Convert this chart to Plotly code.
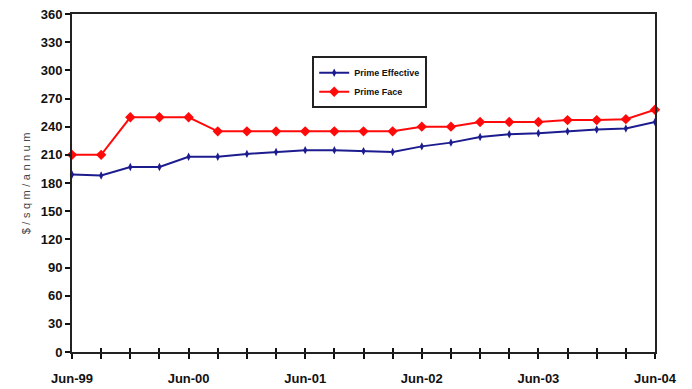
import plotly.graph_objects as go

quarters = ["Jun-99", "Sep-99", "Dec-99", "Mar-00", "Jun-00", "Sep-00", "Dec-00",
            "Mar-01", "Jun-01", "Sep-01", "Dec-01", "Mar-02", "Jun-02", "Sep-02",
            "Dec-02", "Mar-03", "Jun-03", "Sep-03", "Dec-03", "Mar-04", "Jun-04"]
prime_effective = [189, 188, 197, 197, 208, 208, 211, 213, 215, 215, 214, 213, 219,
                   223, 229, 232, 233, 235, 237, 238, 245]
prime_face = [210, 210, 250, 250, 250, 235, 235, 235, 235, 235, 235, 235, 240,
              240, 245, 245, 245, 247, 247, 248, 258]
label_every = 4
y_ticks = list(range(0, 361, 30))

x = list(range(len(quarters)))
font_family = "Liberation Sans Narrow, Arial Narrow, Liberation Sans, sans-serif"

fig = go.Figure()
fig.add_trace(go.Scatter(
    x=x, y=prime_effective, name="<b>Prime Effective</b>", mode="lines+markers",
    line=dict(color="#1c1c8f", width=2),
    marker=dict(symbol="diamond-tall", size=6, color="#1c1c8f"),
    cliponaxis=False))
fig.add_trace(go.Scatter(
    x=x, y=prime_face, name="<b>Prime Face</b>", mode="lines+markers",
    line=dict(color="#ff0a0a", width=2),
    marker=dict(symbol="diamond", size=8, color="#ff0a0a"),
    cliponaxis=False))

fig.update_layout(
    width=692, height=389,
    margin=dict(l=72, r=37, t=14, b=37),
    paper_bgcolor="white", plot_bgcolor="white",
    showlegend=True,
    legend=dict(x=0.412, y=0.875, xanchor="left", yanchor="top",
                bordercolor="#222", borderwidth=2, bgcolor="white",
                font=dict(family=font_family, size=9, color="#111"),
                itemwidth=30, tracegroupgap=2),
    font=dict(family=font_family, color="#111"),
    xaxis=dict(range=[0, len(quarters) - 1], automargin=False,
               tickvals=x[::label_every], ticktext=["<b>%s</b>" % q for q in quarters[::label_every]],
               ticks="outside", ticklen=5, tickwidth=1.5, tickcolor="#111",
               ticklabelstandoff=8,
               minor=dict(dtick=1, tick0=0, ticks="outside", ticklen=5, tickwidth=1.5, tickcolor="#111"),
               showgrid=False, zeroline=False,
               showline=True, linecolor="#222", linewidth=2, mirror=True,
               tickfont=dict(family=font_family, size=13, color="#111")),
    xaxis2=dict(overlaying="x", range=[0, len(quarters) - 1], anchor="y", automargin=False,
                tickvals=x, ticks="inside", ticklen=4, tickwidth=1.5, tickcolor="#111",
                showticklabels=False, showgrid=False, zeroline=False, side="bottom"),
    yaxis=dict(range=[0, 360], tickvals=y_ticks, automargin=False,
               ticktext=["<b>%d</b>" % v for v in y_ticks],
               ticks="outside", ticklen=5, tickwidth=1.5, tickcolor="#111",
               showgrid=False, zeroline=False,
               showline=True, linecolor="#222", linewidth=2, mirror=True,
               tickfont=dict(family=font_family, size=13, color="#111")),
)
fig.add_trace(go.Scatter(x=[0], y=[0], xaxis="x2", mode="markers",
                         marker=dict(opacity=0), showlegend=False, hoverinfo="skip"))

fig.add_annotation(
    text='<span style="letter-spacing:3.5px">$/sqm/annum</span>',
    xref="paper", yref="paper", x=-0.079, y=0.505, xanchor="center", yanchor="middle",
    textangle=-90, showarrow=False,
    font=dict(family="Liberation Sans, Arial, sans-serif", size=11, color="#444"))

fig.write_html("out.html")
